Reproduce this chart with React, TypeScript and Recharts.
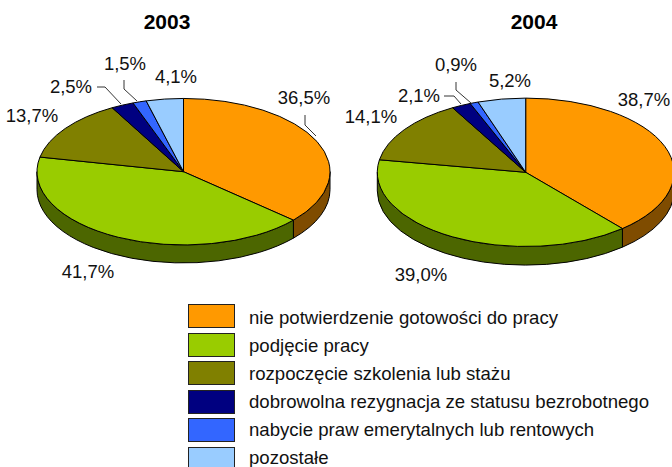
import React from "react";
import { PieChart, Pie, Legend } from "recharts";

const categories = [
  "nie potwierdzenie gotowości do pracy",
  "podjęcie pracy",
  "rozpoczęcie szkolenia lub stażu",
  "dobrowolna rezygnacja ze statusu bezrobotnego",
  "nabycie praw emerytalnych lub rentowych",
  "pozostałe",
];
const values2003 = [36.5, 41.7, 13.7, 2.5, 1.5, 4.1];
const values2004 = [38.7, 39.0, 14.1, 2.1, 0.9, 5.2];
const colors = ["#FF9900", "#99CC00", "#808000", "#000080", "#3366FF", "#99CCFF"];

const FONT = "'Liberation Sans', Arial, sans-serif";
const Y_RATIO = 0.5;

type Lbl = { x: number; y: number; line?: number[][] };
const labels2003: Lbl[] = [
  { x: 304, y: 104, line: [[305, 115], [305, 125], [316, 136]] },
  { x: 88, y: 278 },
  { x: 32, y: 122 },
  { x: 71, y: 93, line: [[97, 87], [105, 87], [121, 104]] },
  { x: 125, y: 70, line: [[124, 80], [124, 89], [137, 101]] },
  { x: 176, y: 83 },
];
const labels2004: Lbl[] = [
  { x: 644, y: 106 },
  { x: 421, y: 281 },
  { x: 371, y: 123 },
  { x: 419, y: 102, line: [[444, 96], [454, 96], [461, 104]] },
  { x: 456, y: 71, line: [[456, 82], [456, 90], [471, 103]] },
  { x: 510, y: 87 },
];

const toRows = (vals: number[]) =>
  categories.map((name, i) => ({ name, value: vals[i], fill: colors[i] }));

const darken = (hex: string) => {
  const n = parseInt(hex.slice(1), 16);
  const c = (s: number) => (((n >> s) & 255) >> 1).toString(16).padStart(2, "0");
  return `#${c(16)}${c(8)}${c(0)}`;
};

const ellipticShape = (depth: number) => (p: any) => {
  const { cx, cy, outerRadius: rx, startAngle: s, endAngle: e, fill } = p;
  const ry = rx * Y_RATIO;
  const pt = (a: number, dy = 0) => {
    const r = (a * Math.PI) / 180;
    return [cx + rx * Math.cos(r), cy - ry * Math.sin(r) + dy];
  };
  const hiA = Math.max(s, e);
  const loA = Math.min(s, e);
  const [x0, y0] = pt(hiA);
  const [x1, y1] = pt(loA);
  const large = hiA - loA > 180 ? 1 : 0;
  const top = `M${cx},${cy}L${x0},${y0}A${rx},${ry} 0 ${large} 1 ${x1},${y1}Z`;
  const wHi = Math.min(hiA, 0);
  const wLo = Math.max(loA, -180);
  let wall = null;
  if (wHi > wLo) {
    const [a0, b0] = pt(wHi);
    const [a1, b1] = pt(wLo);
    wall = `M${a0},${b0}A${rx},${ry} 0 0 1 ${a1},${b1}L${a1},${b1 + depth}A${rx},${ry} 0 0 0 ${a0},${b0 + depth}Z`;
  }
  return (
    <g>
      {wall && <path d={wall} fill={darken(fill)} stroke="#000" strokeWidth={1} />}
      <path d={top} fill={fill} stroke="#000" strokeWidth={1} />
    </g>
  );
};

const labelRenderer = (vals: number[], layout: Lbl[]) => (p: any) => {
  const l = layout[p.index];
  return (
    <g key={p.index}>
      {l.line && (
        <polyline points={l.line.map((q) => q.join(",")).join(" ")} fill="none" stroke="#000" strokeWidth={0.8} />
      )}
      <text x={l.x} y={l.y} textAnchor="middle" fontFamily={FONT} fontSize={18.5} fill="#111">
        {vals[p.index].toFixed(1).replace(".", ",") + "%"}
      </text>
    </g>
  );
};

const LegendBox = () => (
  <div style={{ position: "relative", width: 672, height: 467 }}>
    {categories.map((c, i) => (
      <React.Fragment key={c}>
        <div
          style={{
            position: "absolute",
            left: 188,
            top: 304 + i * 28.5,
            width: 45,
            height: 22,
            background: colors[i],
            border: "1px solid #222",
          }}
        />
        <div
          style={{
            position: "absolute",
            left: 249,
            top: 307 + i * 28,
            fontFamily: FONT,
            fontSize: 18.6,
            lineHeight: "22px",
            color: "#111",
            whiteSpace: "nowrap",
          }}
        >
          {c}
        </div>
      </React.Fragment>
    ))}
  </div>
);

const Title = ({ x, t }: { x: number; t: string }) => (
  <text x={x} y={29} textAnchor="middle" fontFamily={FONT} fontSize={21} fontWeight="bold" fill="#000">
    {t}
  </text>
);

export default function App() {
  return (
    <div style={{ position: "absolute", left: 0, top: 0, width: 672, height: 467, overflow: "hidden", background: "#fff" }}>
      <PieChart width={672} height={467} margin={{ top: 0, right: 0, bottom: 0, left: 0 }}>
        <Title x={167} t="2003" />
        <Title x={534} t="2004" />
        <Pie
          data={toRows(values2003)}
          dataKey="value"
          nameKey="name"
          cx={183.5}
          cy={171.7}
          innerRadius={0}
          outerRadius={146.5}
          startAngle={90}
          endAngle={-270}
          isAnimationActive={false}
          shape={ellipticShape(18)}
          label={labelRenderer(values2003, labels2003)}
          labelLine={false}
        />
        <Pie
          data={toRows(values2004)}
          dataKey="value"
          nameKey="name"
          cx={525.7}
          cy={172.3}
          innerRadius={0}
          outerRadius={148.4}
          startAngle={90}
          endAngle={-270}
          isAnimationActive={false}
          shape={ellipticShape(18.6)}
          label={labelRenderer(values2004, labels2004)}
          labelLine={false}
        />
        <Legend
          content={<LegendBox />}
          wrapperStyle={{ position: "absolute", left: 0, top: 0, width: 672, height: 467, pointerEvents: "none" }}
        />
      </PieChart>
    </div>
  );
}
